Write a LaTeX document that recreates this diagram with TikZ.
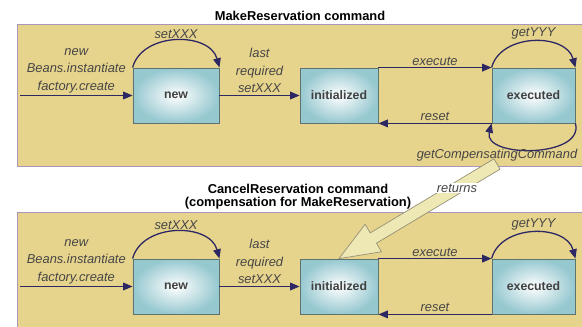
\documentclass[tikz,border=0pt]{standalone}
\usepackage{fontspec}
\setmainfont{Liberation Sans}
\usetikzlibrary{arrows.meta,calc}

\definecolor{panelfill}{RGB}{230,211,140}
\definecolor{panelline}{RGB}{170,150,185}
\definecolor{boxfill}{RGB}{150,200,208}
\definecolor{boxline}{RGB}{95,115,110}
\definecolor{arrowcol}{RGB}{45,40,100}
\definecolor{labelcol}{RGB}{70,70,70}
\definecolor{bigfill}{RGB}{238,232,180}
\definecolor{bigline}{RGB}{150,145,120}

\tikzset{
  panel/.style={draw=panelline, fill=panelfill, line width=0.8pt},
  state/.style={draw=boxline, line width=0.7pt, inner color=white, outer color=boxfill,
    minimum height=1.65cm, inner sep=0pt, text=black!75,
    font=\fontsize{10.5}{12}\selectfont\bfseries},
  trans/.style={draw=arrowcol, line width=1.1pt, -{Triangle[length=8pt,width=6.5pt]}},
  lbl/.style={font=\fontsize{11}{15}\selectfont\itshape, text=labelcol, align=center, inner sep=1.5pt},
  title/.style={font=\fontsize{11}{11.5}\selectfont\bfseries, align=center}
}

\begin{document}
\begin{tikzpicture}[x=0.03cm, y=0.03cm]
    \useasboundingbox (0,0) rectangle (582,-326);

    %Panels
    \draw[panel] (17,-24) rectangle (586,-166);
    \draw[panel] (17,-212) rectangle (586,-330);

    %Titles
    \node[title] (mkTitle) at (300,-16) {MakeReservation command};
    \node[title] (cxTitle) at (298,-196.5) {CancelReservation command\\(compensation for MakeReservation)};

    %States and transitions, same for both commands
    \foreach \p/\dy in {t/0, b/191}{
        \node[state, minimum width=2.58cm] (\p New) at (176,-95.5-\dy) {new};
        \node[state, minimum width=2.34cm] (\p Init) at (339,-95.5-\dy) {initialized};
        \node[state, minimum width=2.49cm] (\p Exec) at (533.5,-95.5-\dy) {executed};
        \coordinate (\p In) at (20,-95.5-\dy);

        \draw[trans] (\p In) -- (\p New.west)
            node[lbl, midway, above] {new\\Beans.instantiate\\factory.create};
        \draw[trans] (\p New.east) -- (\p Init.west)
            node[lbl, midway, above] {last\\required\\setXXX};
        \draw[trans] (\p Init.north east) -- (\p Exec.north west)
            node[lbl, midway, above] {execute};
        \draw[trans] (\p Exec.south west) -- (\p Init.south east)
            node[lbl, midway, above] {reset};
        \draw[trans] (\p New.north west) to[out=75, in=105, looseness=1.1]
            node[lbl, above] {setXXX} (\p New.north east);
        \draw[trans] (\p Exec.north west) to[out=75, in=105, looseness=1.1]
            node[lbl, above] {getYYY} (\p Exec.north east);
    }

    %Compensation
    \draw[trans] (tExec.south east) to[out=-75, in=-105, looseness=1.1] (tExec.south west);
    \node[lbl] (gcc) at (497,-155) {getCompensatingCommand};

    \coordinate (cmpTail) at (497,-164);
    \coordinate (cmpBase) at ($(bInit.north)!1.2cm!(cmpTail)$);
    \draw[draw=bigline, fill=bigfill, line width=0.6pt, line join=round]
        ($(cmpTail)!0.18cm!-90:(cmpBase)$) -- ($(cmpBase)!0.18cm!90:(cmpTail)$)
        -- ($(cmpBase)!0.48cm!90:(cmpTail)$) -- (bInit.north)
        -- ($(cmpBase)!0.48cm!-90:(cmpTail)$) -- ($(cmpBase)!0.18cm!-90:(cmpTail)$)
        -- ($(cmpTail)!0.18cm!90:(cmpBase)$) -- cycle;
    \node[lbl, fill=white, inner sep=1pt] (ret) at (457,-188) {returns};

\end{tikzpicture}
\end{document}
